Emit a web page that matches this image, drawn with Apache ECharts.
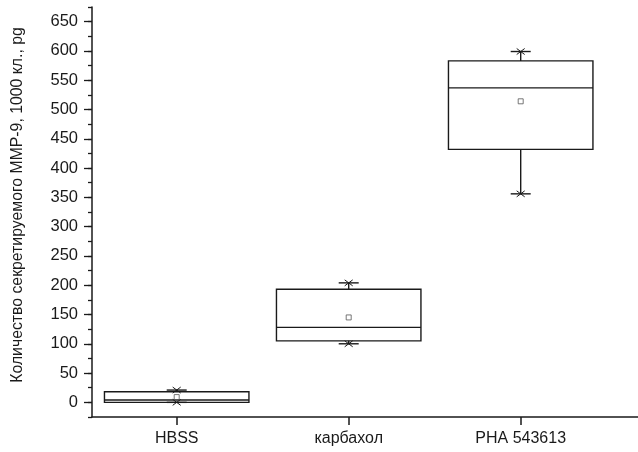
<!DOCTYPE html>
<html>
<head>
<meta charset="utf-8">
<script src="https://cdn.jsdelivr.net/npm/echarts@6/dist/echarts.min.js"></script>
<style>html,body{margin:0;padding:0;background:#fff;}#c{width:638px;height:452px;}</style>
</head>
<body>
<div id="c"></div>
<script>
const categories = ['HBSS', 'карбахол', 'PHA 543613'];
const minVals = [0, 100, 356];
const q1Vals = [0, 105, 432];
const medianVals = [4, 128, 537];
const q3Vals = [18, 193, 583];
const maxVals = [21, 204, 599];
const meanVals = [9, 145, 514];
const yTitle = 'Количество секретируемого MMP-9, 1000 кл., pg';

const INK = '#1a1a1a';
const FONT = 'Arial, "Liberation Sans", sans-serif';

const boxData = categories.map((c, i) => [i, minVals[i], q1Vals[i], medianVals[i], q3Vals[i], maxVals[i], meanVals[i]]);

function renderItem(params, api) {
  const i = api.value(0);
  const pMin = api.coord([i, api.value(1)]);
  const pQ1 = api.coord([i, api.value(2)]);
  const pMed = api.coord([i, api.value(3)]);
  const pQ3 = api.coord([i, api.value(4)]);
  const pMax = api.coord([i, api.value(5)]);
  const pMean = api.coord([i, api.value(6)]);
  const band = api.size([1, 0])[0];
  const hw = band * 0.42;
  const ew = 10;
  const x = pMed[0];
  const st = { stroke: INK, lineWidth: 1.4, fill: null };
  const line = (x1, y1, x2, y2, lw) => ({ type: 'line', shape: { x1, y1, x2, y2 }, style: Object.assign({}, st, lw ? { lineWidth: lw } : {}) });
  const cross = (cx, cy) => [line(cx - 4, cy - 3, cx + 4, cy + 3, 1), line(cx - 4, cy + 3, cx + 4, cy - 3, 1)];
  const children = [
    line(x, pMax[1], x, pQ3[1]),
    line(x, pQ1[1], x, pMin[1]),
    line(x - ew, pMax[1], x + ew, pMax[1]),
    line(x - ew, pMin[1], x + ew, pMin[1]),
    ...cross(x, pMax[1]),
    ...cross(x, pMin[1]),
    { type: 'rect', shape: { x: x - hw, y: pQ3[1], width: 2 * hw, height: pQ1[1] - pQ3[1] }, style: st },
    line(x - hw, pMed[1], x + hw, pMed[1]),
    { type: 'rect', shape: { x: pMean[0] - 2.5, y: pMean[1] - 2.5, width: 5, height: 5 }, style: { stroke: '#555', lineWidth: 0.8, fill: null } }
  ];
  return { type: 'group', children };
}

const s = 410 / 700;
const chart = echarts.init(document.getElementById('c'), null, { renderer: 'canvas' });
chart.setOption({
  animation: false,
  backgroundColor: '#fff',
  grid: [
    { left: 92, right: 0, top: 7, height: 410 },
    { left: 90.7, width: 516, top: 7, height: 410 },
    { left: 92, right: 0, top: 7 + 25 * s, height: 650 * s }
  ],
  xAxis: [
    { gridIndex: 0, type: 'value', min: 0, max: 1, axisLine: { show: true, onZero: false, lineStyle: { color: INK, width: 1.5 } }, axisTick: { show: false }, axisLabel: { show: false }, splitLine: { show: false } },
    { gridIndex: 1, type: 'category', data: categories, boundaryGap: true, axisLine: { show: false, onZero: false }, axisTick: { show: true, alignWithLabel: true, length: 8, lineStyle: { color: INK, width: 1.5 } }, axisLabel: { fontSize: 16, fontFamily: FONT, color: INK, margin: 14 }, splitLine: { show: false } },
    { gridIndex: 2, type: 'value', show: false, min: 0, max: 1 }
  ],
  yAxis: [
    { gridIndex: 0, type: 'value', min: -25, max: 675, interval: 25, axisLine: { show: true, lineStyle: { color: INK, width: 1.5 } }, axisTick: { show: true, length: 4, lineStyle: { color: INK, width: 1.3 } }, axisLabel: { show: false }, splitLine: { show: false } },
    { gridIndex: 1, type: 'value', min: -25, max: 675, show: false, splitLine: { show: false } },
    { gridIndex: 2, type: 'value', min: 0, max: 650, interval: 50, axisLine: { show: false }, axisTick: { show: true, length: 8, lineStyle: { color: INK, width: 1.3 } }, axisLabel: { fontSize: 16.5, fontFamily: FONT, color: INK, margin: 14 }, splitLine: { show: false },
      name: yTitle, nameLocation: 'middle', nameRotate: 90, nameGap: 66, nameTextStyle: { fontSize: 15.8, fontFamily: FONT, color: INK, padding: [0, 0, 0, 14] } }
  ],
  series: [{
    type: 'custom',
    xAxisIndex: 1,
    yAxisIndex: 1,
    renderItem,
    encode: { x: 0, y: [1, 2, 3, 4, 5, 6] },
    data: boxData
  }]
});
</script>
</body>
</html>
